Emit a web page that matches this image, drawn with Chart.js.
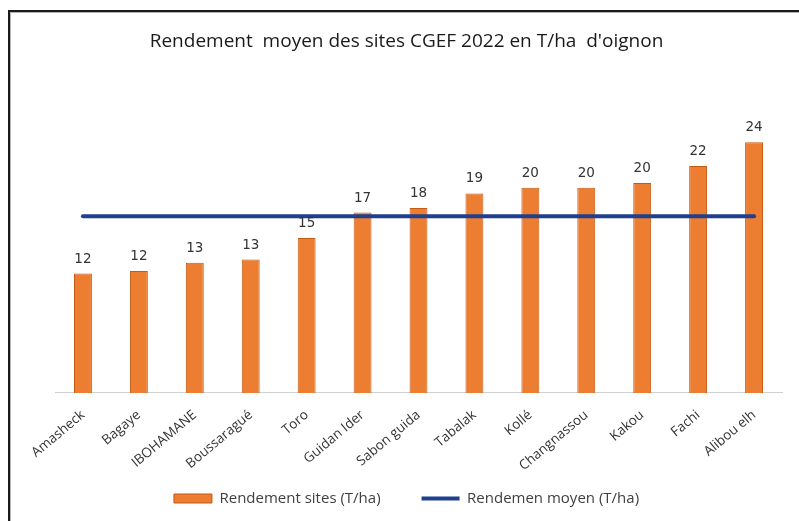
<!DOCTYPE html>
<html>
<head>
<meta charset="utf-8">
<script src="https://cdn.jsdelivr.net/npm/chart.js@4"></script>
<style>
  html, body { margin: 0; padding: 0; background: #fff; }
  body { width: 799px; height: 521px; position: relative; overflow: hidden; }
  #frame {
    position: absolute; left: 8px; top: 10px; width: 800px; height: 520px;
    border-left: 2px solid #1b1b1b; border-top: 2px solid #1b1b1b;
    box-shadow: inset 1px 1px 0 #b5b5b5;
  }
  #c { position: absolute; left: 0; top: 0; }
</style>
</head>
<body>
<div id="frame"></div>
<canvas id="c" width="799" height="521"></canvas>
<script>
/* données */
const sites = ["Amasheck", "Bagaye", "IBOHAMANE", "Boussaragué", "Toro", "Guidan Ider",
  "Sabon guida", "Tabalak", "Kollé", "Changnassou", "Kakou", "Fachi", "Alibou elh"];
const rendement = [11.55, 11.8, 12.6, 12.9, 15.0, 17.45, 17.9, 19.3, 19.85, 19.85, 20.3, 21.95, 24.25];
const moyenne = [17.1, 17.1, 17.1, 17.1, 17.1, 17.1, 17.1, 17.1, 17.1, 17.1, 17.1, 17.1, 17.1];

const TXT = "#404040";

// étiquettes de valeur au-dessus des barres (arrondies comme dans Excel)
const valueLabels = {
  id: "valueLabels",
  afterDatasetsDraw(chart){
    const ctx = chart.ctx;
    const meta = chart.getDatasetMeta(0);
    ctx.save();
    ctx.font = '13.5px "DejaVu Sans"';
    ctx.fillStyle = "#333";
    ctx.textAlign = "center";
    ctx.textBaseline = "alphabetic";
    meta.data.forEach((bar, i) => {
      ctx.fillText(String(Math.round(rendement[i])), bar.x, bar.y - 11);
    });
    ctx.restore();
  }
};

new Chart(document.getElementById("c"), {
  type: "bar",
  data: {
    labels: sites,
    datasets: [
      {
        type: "bar",
        label: "Rendement sites (T/ha)",
        data: rendement,
        backgroundColor: "#ED7D31",
        borderColor: "#C55A11",
        borderWidth: 1,
        barPercentage: 0.32,
        categoryPercentage: 1,
        pointStyle: "rect",
        order: 1
      },
      {
        type: "line",
        label: "Rendemen moyen (T/ha)",
        data: moyenne,
        borderColor: "#1F3F8F",
        backgroundColor: "#1F3F8F",
        borderWidth: 4,
        borderCapStyle: "round",
        pointRadius: 0,
        pointStyle: "line",
        fill: false,
        order: 0
      }
    ]
  },
  options: {
    responsive: false,
    animation: false,
    layout: { padding: { left: 31, right: 17, top: 0, bottom: 5 } },
    plugins: {
      title: {
        display: true,
        text: "Rendement  moyen des sites CGEF 2022 en T/ha  d'oignon",
        color: "#1a1a1a",
        font: { family: "Open Sans", size: 19, weight: "normal" },
        padding: { top: 30, bottom: 30 }
      },
      legend: {
        position: "bottom",
        labels: {
          usePointStyle: true,
          pointStyleWidth: 38,
          boxHeight: 9,
          padding: 11,
          color: TXT,
          font: { family: "Open Sans", size: 15 },
          sort: (a, b) => a.datasetIndex - b.datasetIndex,
          generateLabels: (chart) => {
            const items = Chart.defaults.plugins.legend.labels.generateLabels(chart);
            // un peu plus d'écart entre les deux entrées
            items.forEach(it => { if (it.datasetIndex === 0) it.text += "\u2003\u2003"; });
            return items;
          }
        }
      },
      tooltip: { enabled: false }
    },
    scales: {
      x: {
        grid: { display: false },
        border: { color: "#D0D0D0", width: 1 },
        ticks: {
          color: "#333",
          padding: 6,
          minRotation: 40, maxRotation: 40,
          autoSkip: false,
          font: { family: "Open Sans", size: 13.5 }
        }
      },
      y: {
        min: 0,
        max: 30,
        grid: { display: false },
        border: { display: false },
        ticks: { display: false },
        afterFit: (scale) => { scale.width = 24; }
      }
    }
  },
  plugins: [valueLabels]
});
</script>
</body>
</html>
